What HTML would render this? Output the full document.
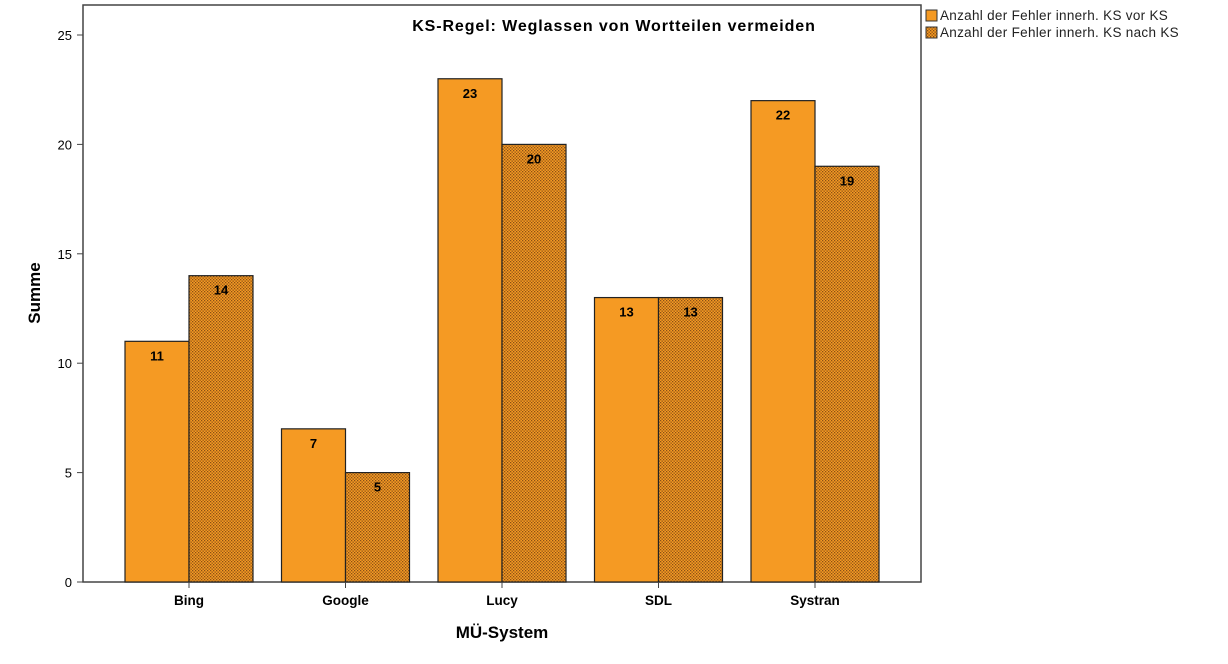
<!DOCTYPE html>
<html><head><meta charset="utf-8"><style>
body{margin:0;background:#fff;font-family:"Liberation Sans",Arial,sans-serif}
</style></head><body>
<svg width="1228" height="659" xmlns="http://www.w3.org/2000/svg">
<defs>
<pattern id="dots" width="3" height="3" patternUnits="userSpaceOnUse">
<rect width="3" height="3" fill="#F59A23"/>
<rect x="0" y="0" width="1.3" height="1.3" fill="#8a4f15"/>
<rect x="1.5" y="1.5" width="1.3" height="1.3" fill="#8a4f15"/>
</pattern>
</defs>
<rect x="83" y="5" width="838" height="577" fill="#fff" stroke="#444" stroke-width="1.5"/>
<text x="614" y="31" text-anchor="middle" font-size="16" letter-spacing="0.9" font-weight="bold">KS-Regel: Weglassen von Wortteilen vermeiden</text>
<g id="yaxis"></g>
<g id="bars"></g>
<text x="502" y="638" text-anchor="middle" font-size="17" font-weight="bold">MÜ-System</text>
<text transform="translate(40,293) rotate(-90)" text-anchor="middle" font-size="17" font-weight="bold">Summe</text>
<g>
<rect x="926" y="10" width="11" height="11" fill="#F59A23" stroke="#333"/>
<text x="940" y="20" font-size="13.5" letter-spacing="0.3" fill="#222">Anzahl der Fehler innerh. KS vor KS</text>
<rect x="926" y="27" width="11" height="11" fill="url(#dots)" stroke="#333"/>
<text x="940" y="37" font-size="13.5" letter-spacing="0.3" fill="#222">Anzahl der Fehler innerh. KS nach KS</text>
</g>
</svg>
<script>
const categories=["Bing","Google","Lucy","SDL","Systran"];
const vorValues=[11,7,23,13,22];
const nachValues=[14,5,20,13,19];
const yTicks=[0,5,10,15,20,25];
const NS="http://www.w3.org/2000/svg";
function y(v){return 582-v*21.88;}
function xc(i){return 189+i*156.5;}
function mk(t,a,p){const e=document.createElementNS(NS,t);for(const k in a)e.setAttribute(k,a[k]);p.appendChild(e);return e;}
const ya=document.getElementById('yaxis');
yTicks.forEach(t=>{
  mk('line',{x1:77,x2:83,y1:y(t),y2:y(t),stroke:'#444'},ya);
  const tx=mk('text',{x:72,y:y(t)+5,'text-anchor':'end','font-size':13},ya);
  
  
  tx.textContent=t;
});
const g=document.getElementById('bars');
const w=64;
categories.forEach((c,i)=>{
  const cx=xc(i);
  [[vorValues[i],'#F59A23',cx-w,'bar-vor-'],[nachValues[i],'url(#dots)',cx,'bar-nach-']].forEach(([v,f,x,n])=>{
    const r=mk('rect',{x:x,y:y(v),width:w,height:y(0)-y(v),fill:f,stroke:'#222','stroke-width':1.2},g);
    
    
    const l=mk('text',{x:x+w/2,y:y(v)+19,'text-anchor':'middle','font-size':13,'font-weight':'bold'},g);
    
    
    l.textContent=v;
  });
  mk('line',{x1:cx,x2:cx,y1:582,y2:588,stroke:'#444'},g);
  const t=mk('text',{x:cx,y:605,'text-anchor':'middle','font-size':13.5,'font-weight':'bold'},g);
  
  
  t.textContent=c;
});
</script>
</body></html>
